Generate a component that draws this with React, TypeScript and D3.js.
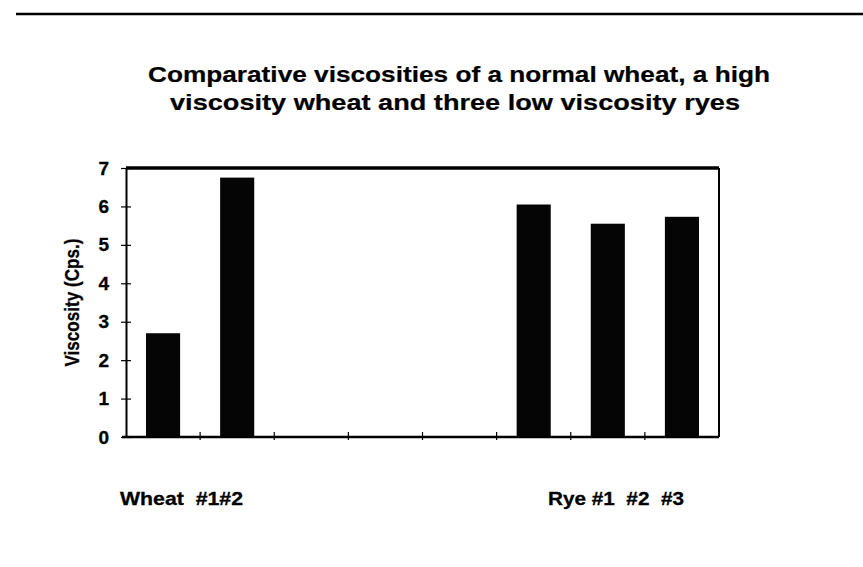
import React, { useEffect, useRef } from "react";
import * as d3 from "d3";

// categories along the x axis (three empty slots between wheat and rye)
const categories = ["Wheat #1", "Wheat #2", "gap a", "gap b", "gap c", "Rye #1", "Rye #2", "Rye #3"];
const viscosity = [2.7, 6.75, null, null, null, 6.05, 5.55, 5.73];
const yTicks = [0, 1, 2, 3, 4, 5, 6, 7];
const titleLines = [
  "Comparative viscosities of a normal wheat, a high",
  "viscosity wheat and three low viscosity ryes",
];
const groupLabels = ["Wheat  #1#2", "Rye #1  #2  #3"];

const W = 863;
const H = 567;
const FONT = "'Liberation Sans', Arial, Helvetica, sans-serif";

const App = () => {
  const ref = useRef<SVGSVGElement>(null);

  useEffect(() => {
    const svg = d3.select(ref.current);
    svg.selectAll("*").remove();

    const plot = { left: 126, right: 719, top: 168, bottom: 437 };

    const x = d3
      .scaleBand()
      .domain(categories)
      .range([plot.left, plot.right])
      .paddingInner(0.54)
      .paddingOuter(0.27);
    const y = d3.scaleLinear().domain([0, 7]).range([plot.bottom, plot.top]);

    // rule across the top of the page
    svg.append("line")
      .attr("x1", 16).attr("x2", W)
      .attr("y1", 14).attr("y2", 14)
      .attr("stroke", "#000").attr("stroke-width", 2.5);

    // title
    const titleX = [148, 170];
    const titleW = [622, 570];
    const titleY = [82, 110];
    titleLines.forEach((t, i) => {
      svg.append("text")
        .attr("x", titleX[i]).attr("y", titleY[i])
        .attr("textLength", titleW[i])
        .attr("lengthAdjust", "spacingAndGlyphs")
        .attr("font-family", FONT).attr("font-weight", "bold")
        .attr("font-size", 22)
        .attr("stroke", "#000").attr("stroke-width", 0.2)
        .text(t);
    });

    // bars
    const data = categories.map((c, i) => ({ c, v: viscosity[i] })).filter((d) => d.v != null);
    svg.append("g")
      .selectAll("rect")
      .data(data)
      .enter()
      .append("rect")
      .attr("x", (d) => x(d.c)!)
      .attr("width", x.bandwidth())
      .attr("y", (d) => y(d.v as number))
      .attr("height", (d) => y(0) - y(d.v as number))
      .attr("fill", "#050505");

    // frame: heavy top, lighter right
    svg.append("line")
      .attr("x1", plot.left).attr("x2", plot.right)
      .attr("y1", plot.top).attr("y2", plot.top)
      .attr("stroke", "#000").attr("stroke-width", 3.5);
    svg.append("line")
      .attr("x1", plot.right).attr("x2", plot.right)
      .attr("y1", plot.top).attr("y2", plot.bottom)
      .attr("stroke", "#000").attr("stroke-width", 2);

    // y axis with crossing ticks
    const yAxis = svg.append("g").attr("transform", `translate(${plot.left},0)`);
    yAxis.call(
      d3.axisLeft(y).tickValues(yTicks).tickSize(0).tickPadding(17).tickFormat(d3.format("d"))
    );
    yAxis.select(".domain").attr("stroke-width", 2);
    yAxis.selectAll(".tick line").remove();
    yAxis.selectAll(".tick")
      .append("line")
      .attr("x1", -5).attr("x2", 5)
      .attr("stroke", "#000").attr("stroke-width", 1.2);
    yAxis.selectAll(".tick text")
      .attr("font-family", FONT).attr("font-weight", "bold")
      .attr("font-size", 19).attr("fill", "#000")
      .attr("stroke", "#000").attr("stroke-width", 0.3);

    // x axis, ticks at band edges
    const step = x.step();
    const edges = d3.range(categories.length + 1).map((i) => plot.left + i * step);
    svg.append("line")
      .attr("x1", plot.left - 4).attr("x2", plot.right)
      .attr("y1", plot.bottom).attr("y2", plot.bottom)
      .attr("stroke", "#000").attr("stroke-width", 2.5);
    svg.append("g")
      .selectAll("line")
      .data(edges.slice(1, -1))
      .enter()
      .append("line")
      .attr("x1", (d) => d).attr("x2", (d) => d)
      .attr("y1", plot.bottom - 5).attr("y2", plot.bottom + 3)
      .attr("stroke", "#000").attr("stroke-width", 1.2);

    // y axis title
    svg.append("text")
      .attr("transform", `translate(79,${(plot.top + plot.bottom) / 2}) rotate(-90)`)
      .attr("text-anchor", "middle")
      .attr("textLength", 128)
      .attr("lengthAdjust", "spacingAndGlyphs")
      .attr("font-family", FONT).attr("font-weight", "bold")
      .attr("font-size", 20)
      .attr("stroke", "#000").attr("stroke-width", 0.3)
      .text("Viscosity (Cps.)");

    // group labels under the axis
    const groupX = [120, 548];
    const groupW = [123, 136];
    groupLabels.forEach((t, i) => {
      svg.append("text")
        .attr("x", groupX[i]).attr("y", 505)
        .attr("textLength", groupW[i])
        .attr("lengthAdjust", "spacingAndGlyphs")
        .attr("font-family", FONT).attr("font-weight", "bold")
        .attr("font-size", 19)
        .attr("stroke", "#000").attr("stroke-width", 0.3)
        .style("white-space", "pre")
        .text(t);
    });
  }, []);

  return (
    <svg
      ref={ref}
      width={W}
      height={H}
      style={{ position: "absolute", left: 0, top: 0, background: "#fff" }}
    />
  );
};

export default App;
